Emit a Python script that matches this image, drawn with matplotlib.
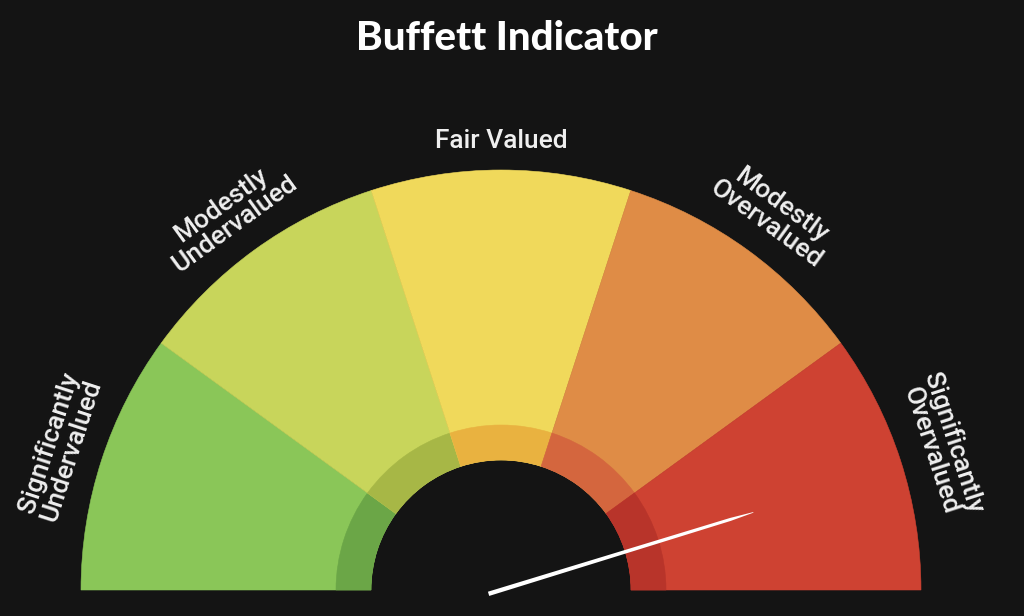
import numpy as np
import matplotlib
matplotlib.use("Agg")
import matplotlib.pyplot as plt
from matplotlib.patches import Wedge, Polygon

# Gauge zones, left (cheap) to right (expensive)
zones = ["Significantly\nUndervalued", "Modestly\nUndervalued", "Fair Valued",
         "Modestly\nOvervalued", "Significantly\nOvervalued"]
zone_colors = ["#8AC658", "#C8D55B", "#F0D95B", "#DF8C46", "#CE4232"]
zone_inner_colors = ["#6BA647", "#A7B746", "#E9B240", "#D4663E", "#B8342A"]
zone_bounds = [0, 20, 40, 60, 80, 100]   # gauge scale, 0..100
indicator_value = 90.5                    # needle position on the gauge scale

BG = "#141414"
W, H = 1024, 616

fig = plt.figure(figsize=(W / 100, H / 100), dpi=100, facecolor=BG)
ax = fig.add_axes([0, 0, 1, 1])
ax.set_xlim(0, W)
ax.set_ylim(0, H)
ax.set_facecolor(BG)
ax.axis("off")

cx, cy = 501, 26
r_out, r_in, r_band = 420, 130, 165


def to_angle(v):
    return 180.0 - 180.0 * v / 100.0


for i, label in enumerate(zones):
    a1 = to_angle(zone_bounds[i + 1])
    a2 = to_angle(zone_bounds[i])
    ax.add_patch(Wedge((cx, cy), r_out, a1, a2, width=r_out - r_in,
                       facecolor=zone_colors[i], edgecolor=zone_colors[i],
                       linewidth=0.4))
    ax.add_patch(Wedge((cx, cy), r_band, a1, a2, width=r_band - r_in,
                       facecolor=zone_inner_colors[i],
                       edgecolor=zone_inner_colors[i], linewidth=0.4))

    mid = 0.5 * (a1 + a2)
    rad = np.deg2rad(mid)
    two_line = "\n" in label
    r_lab = 464 if two_line else 449
    rot = mid - 90
    ax.text(cx + r_lab * np.cos(rad), cy + r_lab * np.sin(rad), label,
            rotation=rot, rotation_mode="anchor", ha="center", va="center",
            fontsize=19, fontweight="medium", family="Roboto", color="#EFEFEF",
            linespacing=1.0, multialignment="center")

# Needle: white pointer, slightly tapered toward the tip
ang = np.deg2rad(to_angle(indicator_value))
d = np.array([np.cos(ang), np.sin(ang)])
n = np.array([-d[1], d[0]])
c = np.array([cx, cy])
base = c - 13 * d
shoulder = c + 240 * d
tip = c + 264 * d
needle = Polygon([base + 2.2 * n, shoulder + 1.5 * n, tip + 0.3 * n,
                  tip - 0.3 * n, shoulder - 1.5 * n, base - 2.2 * n],
                 closed=True, facecolor="white", edgecolor="none")
ax.add_patch(needle)

ax.text(507, H - 38, "Buffett Indicator", ha="center", va="center",
        fontsize=29, fontweight="black", family="Lato", color="white")

fig.savefig("out.png", dpi=100, facecolor=BG)
